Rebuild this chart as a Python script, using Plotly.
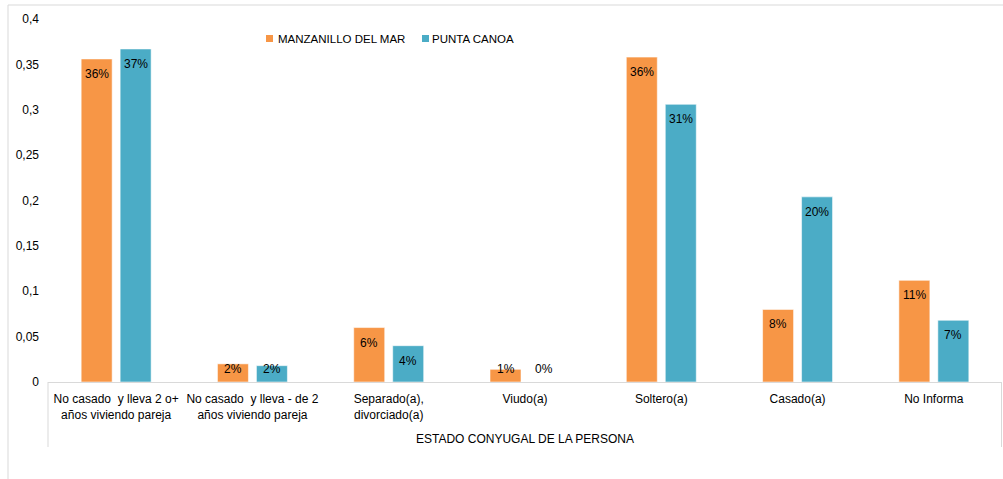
import plotly.graph_objects as go

# ---------------- data ----------------
categories = [
    "No casado  y lleva 2 o+<br>años viviendo pareja",
    "No casado  y lleva - de 2<br>años viviendo pareja",
    "Separado(a),<br>divorciado(a)",
    "Viudo(a)",
    "Soltero(a)",
    "Casado(a)",
    "No Informa",
]
series_names = ["MANZANILLO DEL MAR", "PUNTA CANOA"]
manzanillo = [0.356, 0.020, 0.060, 0.014, 0.358, 0.080, 0.112]
punta_canoa = [0.367, 0.018, 0.040, 0.000, 0.306, 0.204, 0.068]
y_tickvals = [0, 0.05, 0.1, 0.15, 0.2, 0.25, 0.3, 0.35, 0.4]
y_ticktext = ["0", "0,05", "0,1", "0,15", "0,2", "0,25", "0,3", "0,35", "0,4"]
x_title = "ESTADO CONYUGAL DE LA PERSONA"

# ---------------- style ----------------
W, H = 1003, 479
ML, MR, MT, MB = 48, 1, 19, 97
PW, PH = W - ML - MR, H - MT - MB
YMAX = 0.4
FONT = "Liberation Sans, Arial, sans-serif"
COLORS = ["#F79646", "#4BACC6"]
GRAY = "#D9D9D9"
BLACK = "#000000"
BARGAP, BARGROUPGAP = 0.428, 0.205
SLOT_OFFSET = (1 - BARGAP) * (PW / len(categories)) / 4   # px offset of each bar centre


def px(x):
    return (x - ML) / PW


def py(y):
    return (H - MB - y) / PH


fig = go.Figure()
annotations = []
for i, (name, vals, col) in enumerate(zip(series_names, [manzanillo, punta_canoa], COLORS)):
    fig.add_trace(go.Bar(
        x=categories, y=vals, name=name,
        marker=dict(color=col, line=dict(color="rgba(255,255,255,0.55)", width=1)),
        showlegend=False, hoverinfo="x+y",
    ))
    # data labels (Excel "inside end" style)
    xs = -SLOT_OFFSET if i == 0 else SLOT_OFFSET
    for c, v in zip(categories, vals):
        bar_px = v / YMAX * PH
        if bar_px > 28:
            y, ys = v, -15
        else:
            y, ys = 0, 13
        annotations.append(dict(
            x=c, y=y, xref="x", yref="y", xshift=xs, yshift=ys,
            text=f"{v:.0%}", showarrow=False, xanchor="center", yanchor="middle",
            font=dict(family=FONT, size=12, color=BLACK),
        ))

shapes = [
    # outer frame (top and left)
    dict(type="line", xref="paper", yref="paper", x0=px(8), x1=px(1003), y0=py(5), y1=py(5),
         line=dict(color=GRAY, width=1)),
    dict(type="line", xref="paper", yref="paper", x0=px(8), x1=px(8), y0=py(5), y1=py(480),
         line=dict(color=GRAY, width=1)),
    # category axis side separators
    dict(type="line", xref="paper", yref="paper", x0=0, x1=0, y0=0, y1=py(447),
         line=dict(color=GRAY, width=1)),
    dict(type="line", xref="paper", yref="paper", x0=px(1001.5), x1=px(1001.5), y0=0, y1=py(447),
         line=dict(color=GRAY, width=1)),
]

# custom legend (small squares + text)
leg_items = [(266, 276), (422, 430)]
for (sx, tx), name, col in zip(leg_items, series_names, COLORS):
    shapes.append(dict(type="rect", xref="paper", yref="paper",
                       x0=px(sx), x1=px(sx + 7), y0=py(35), y1=py(42),
                       fillcolor=col, line=dict(width=0)))
    annotations.append(dict(xref="paper", yref="paper", x=px(tx), y=py(38.5),
                            xanchor="left", yanchor="middle", showarrow=False,
                            text=name, font=dict(family=FONT, size=11.5, color=BLACK)))

fig.update_layout(
    width=W, height=H,
    margin=dict(l=ML, r=MR, t=MT, b=MB, pad=0, autoexpand=False),
    paper_bgcolor="white", plot_bgcolor="white",
    barmode="group", bargap=BARGAP, bargroupgap=BARGROUPGAP,
    font=dict(family=FONT, size=12, color=BLACK),
    xaxis=dict(
        showline=True, linecolor=GRAY, linewidth=1, ticks="", showgrid=False,
        tickangle=0, automargin=False, ticklabelstandoff=6,
        tickfont=dict(family=FONT, size=12, color=BLACK),
        title=dict(text=x_title, standoff=13, font=dict(family=FONT, size=12, color=BLACK)),
    ),
    yaxis=dict(
        range=[0, YMAX], tickvals=y_tickvals, ticktext=y_ticktext,
        showline=False, showgrid=False, zeroline=False, ticks="",
        automargin=False, ticklabelstandoff=8,
        tickfont=dict(family=FONT, size=12, color=BLACK),
    ),
    shapes=shapes, annotations=annotations,
    showlegend=False,
)

fig.write_html("out.html", config={"displayModeBar": False})

# remove the browser's default 8px body margin so the figure fills the window exactly
with open("out.html", "r", encoding="utf-8") as f:
    html = f.read()
html = html.replace("<head>", "<head><style>html,body{margin:0;padding:0;overflow:hidden;}</style>", 1)
with open("out.html", "w", encoding="utf-8") as f:
    f.write(html)
